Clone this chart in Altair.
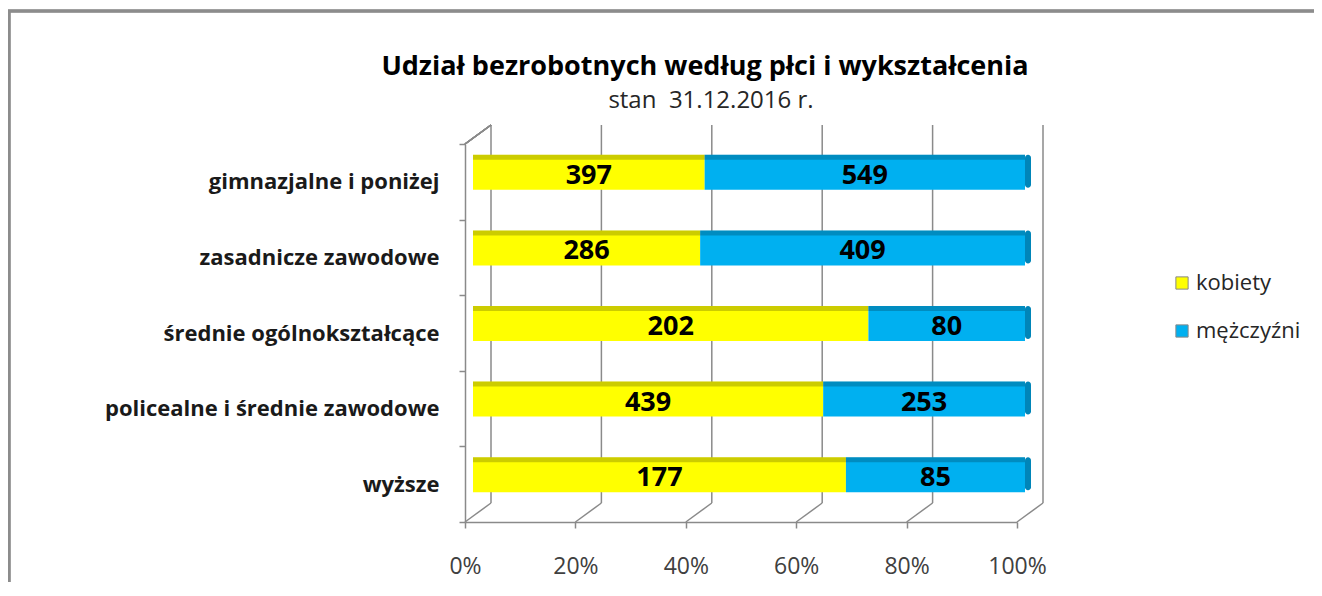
import altair as alt
import pandas as pd

categories = ["gimnazjalne i poniżej", "zasadnicze zawodowe", "średnie ogólnokształcące",
              "policealne i średnie zawodowe", "wyższe"]
kobiety = [397, 286, 202, 439, 177]
mezczyzni = [549, 409, 80, 253, 85]
series = ["kobiety", "mężczyźni"]
colors = ["#FFFF00", "#00B0F0"]
ticks = [0, 0.2, 0.4, 0.6, 0.8, 1.0]
title_text = "Udział bezrobotnych według płci i wykształcenia"
subtitle_text = "stan\u00a0 31.12.2016 r."

rows = []
for c, k, m in zip(categories, kobiety, mezczyzni):
    tot = k + m
    rows.append({"kat": c, "plec": series[0], "val": k, "start": 0.0, "end": k / tot})
    rows.append({"kat": c, "plec": series[1], "val": m, "start": k / tot, "end": 1.0})
df = pd.DataFrame(rows)
df["mid"] = (df["start"] + df["end"]) / 2
df_tot = pd.DataFrame({"kat": categories, "one": [1.0] * len(categories)})
df_ticks = pd.DataFrame({"t": ticks})
df_title = pd.DataFrame({"txt": [title_text]})
df_sub = pd.DataFrame({"txt": [subtitle_text]})

W, H = 552, 378
DX, DY = 26, -19
GRID = "#8a8a8a"
FONT = "Open Sans"

xscale = alt.Scale(domain=[0, 1], nice=False, zero=False)
yscale = alt.Scale(domain=categories, paddingInner=0, paddingOuter=0)
xaxis = alt.Axis(format="%", values=ticks, title=None, grid=False, domainColor=GRID,
                 domainWidth=1.5, tickColor=GRID, tickWidth=1.5, tickSize=6,
                 labelFontSize=23, labelColor="#404040", labelPadding=27, labelFont=FONT,
                 labelFlush=False)
yaxis = alt.Axis(title=None, grid=False, domainColor=GRID, domainWidth=1.5, tickColor=GRID,
                 tickWidth=1.5, tickSize=6, tickBand="extent", labelFontSize=22,
                 labelFontWeight="bold", labelColor="#1a1a1a", labelPadding=20,
                 labelFont=FONT, labelLimit=420)

back = alt.Chart(df_ticks).mark_rule(color=GRID, strokeWidth=1.5, xOffset=DX).encode(
    x=alt.X("t:Q", scale=xscale, axis=xaxis),
    y=alt.value(DY), y2=alt.value(H + DY))
floor = alt.Chart(df_ticks).mark_rule(color=GRID, strokeWidth=1.5, x2Offset=DX).encode(
    x=alt.X("t:Q", scale=xscale, axis=xaxis), x2="t:Q",
    y=alt.value(H), y2=alt.value(H + DY))
wall = alt.Chart(df_ticks).mark_rule(color=GRID, strokeWidth=1.5).encode(
    x=alt.value(0), x2=alt.value(DX), y=alt.value(0), y2=alt.value(DY))

bars = alt.Chart(df).mark_bar(size=35, yOffset=-9.5, xOffset=8, x2Offset=8).encode(
    x=alt.X("start:Q", scale=xscale, axis=xaxis), x2="end:Q",
    y=alt.Y("kat:N", scale=yscale, axis=yaxis, sort=categories),
    color=alt.Color("plec:N", scale=alt.Scale(domain=series, range=colors),
                    legend=alt.Legend(title=None, orient="none", legendX=706, legendY=128,
                                      symbolType="square", symbolSize=150,
                                      symbolStrokeColor="#888", symbolStrokeWidth=1,
                                      labelFontSize=22, labelColor="#262626", labelFont=FONT,
                                      rowPadding=26, labelOffset=3)))
topface = alt.Chart(df).mark_bar(size=5, yOffset=-24.5, xOffset=8, x2Offset=8,
                                 color="black", opacity=0.2).encode(
    x=alt.X("start:Q", scale=xscale, axis=xaxis), x2="end:Q",
    y=alt.Y("kat:N", scale=yscale, axis=yaxis, sort=categories))
side = alt.Chart(df_tot).mark_bar(size=33, yOffset=-10.5, xOffset=8, x2Offset=14,
                                  color="#0085B8", cornerRadius=4).encode(
    x=alt.X("one:Q", scale=xscale, axis=xaxis), x2="one:Q",
    y=alt.Y("kat:N", scale=yscale, axis=yaxis, sort=categories))
labels = alt.Chart(df).mark_text(font=FONT, fontSize=27, fontWeight="bold", color="black",
                                 xOffset=8, yOffset=-6, baseline="middle").encode(
    x=alt.X("mid:Q", scale=xscale, axis=xaxis),
    y=alt.Y("kat:N", scale=yscale, axis=yaxis, sort=categories),
    text="val:Q")

title = alt.Chart(df_title).mark_text(font=FONT, fontSize=27, fontWeight="bold",
                                      color="black", baseline="alphabetic").encode(
    x=alt.value(240), y=alt.value(-69), text="txt:N")
subtitle = alt.Chart(df_sub).mark_text(font=FONT, fontSize=24, color="#262626",
                                       baseline="alphabetic").encode(
    x=alt.value(246), y=alt.value(-36), text="txt:N")

frame_top = alt.Chart(df_ticks).mark_rule(color="#8c8c8c", strokeWidth=2.5).encode(
    x=alt.value(-460), x2=alt.value(W + 400), y=alt.value(-133), y2=alt.value(-133))
frame_left = alt.Chart(df_ticks).mark_rule(color="#8c8c8c", strokeWidth=2.5).encode(
    x=alt.value(-456), x2=alt.value(-456), y=alt.value(-134), y2=alt.value(H + 200))

chart = alt.layer(back, floor, wall, bars, topface, side, labels, title, subtitle,
                  frame_top, frame_left).properties(
    width=W, height=H,
    autosize=alt.AutoSizeParams(type="none"),
    padding={"left": 457, "top": 136, "right": 297, "bottom": 60},
).configure_view(stroke=None)

chart.save("out.html", embed_options={"renderer": "svg", "actions": False})
